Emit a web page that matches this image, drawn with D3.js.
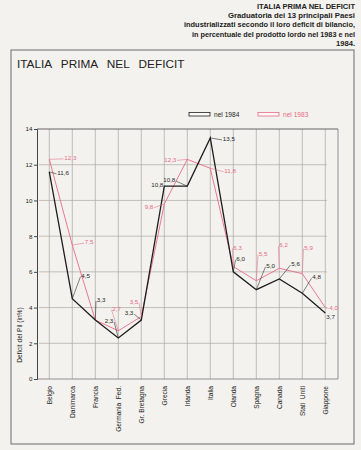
<!DOCTYPE html>
<html><head><meta charset="utf-8">
<script src="https://cdn.jsdelivr.net/npm/d3@7"></script>
<style>
html,body{margin:0;padding:0;background:#f3f2ee;}
svg{display:block;font-family:"Liberation Sans",Arial,sans-serif;}
</style></head>
<body>
<svg id="c" width="361" height="450"></svg>
<script>
// ---- data ----
const categories = ["Belgio","Danimarca","Francia","Germania  Fed.","Gr. Bretagna","Grecia","Irlanda","Italia","Olanda","Spagna","Canada","Stati  Uniti","Giappone"];
const values1984 = [11.6,4.5,3.3,2.3,3.3,10.8,10.8,13.5,6.0,5.0,5.6,4.8,3.7];
const values1983 = [12.3,7.5,3.3,2.7,3.5,9.8,12.3,11.8,6.3,5.5,6.2,5.9,4.0];
const yTicks = [0,2,4,6,8,10,12,14];
const seriesNames = ["nel 1984","nel 1983"];
const headerLines = ["ITALIA PRIMA NEL DEFICIT","Graduatoria dei 13 principali Paesi","industrializzati secondo il loro deficit di bilancio,","in percentuale del prodotto lordo nel 1983 e nel","1984."];
const chartTitle = "ITALIA PRIMA NEL DEFICIT";
const yTitle = "Deficit del Pil (in%)";

// ---- label layout (offsets from point, px) ----
const labels1984 = [[8,1,"start"],[9,-23,"start"],[1.5,-20,"start"],[-5,-17,"end"],[-8,-7,"end"],[-1,-1,"end",false],[-12,-6,"end"],[12.5,1,"start"],[3,-13,"start"],[10,-24,"start"],[12,-15,"start"],[10,-16,"start"],[1,4,"start",false]];
const labels1983 = [[15,-1.5,"start"],[12.5,-3,"start"],null,[-6,-22,"start"],[-3,-14.5,"end"],[-11,2.7,"end"],[-11,0,"end"],[14,2.4,"start"],[0,-19,"start"],[2.5,-27,"start"],[0,-23,"start"],[2,-26,"start"],[4,0,"start"]];

const black = "#1e1e1e", pink = "#e86a86", grid = "#a9a8a4";
const svg = d3.select("#c");

// header (top right)
const hdr = svg.append("g").attr("font-weight","bold").attr("font-size",7.6).attr("fill","#222").attr("text-anchor","end");
const hdrLen = [98,127,171,163,null];
headerLines.forEach((t,i)=>{
  const tx = hdr.append("text").attr("x",355).attr("y",9+i*9.2).text(t);
  if(hdrLen[i]) tx.attr("textLength",hdrLen[i]).attr("lengthAdjust","spacingAndGlyphs");
});

// frame
svg.append("rect").attr("x",11).attr("y",50).attr("width",343).attr("height",394)
  .attr("fill","none").attr("stroke","#6b6b6b").attr("stroke-width",1);
svg.append("text").attr("x",17).attr("y",68).attr("font-size",11.8).attr("fill","#222")
  .style("word-spacing","6px").text(chartTitle);

// scales
const x = d3.scalePoint().domain(categories).range([49.3,325.3]);
const y = d3.scaleLinear().domain([0,14]).range([379,129]);

// grid
const g = svg.append("g");
g.selectAll("line.v").data(categories).join("line")
  .attr("x1",d=>x(d)).attr("x2",d=>x(d)).attr("y1",y(14)).attr("y2",y(0))
  .attr("stroke",grid).attr("stroke-width",0.7);
g.selectAll("line.h").data(yTicks.filter(t=>t>0&&t<14)).join("line")
  .attr("x1",39).attr("x2",327).attr("y1",d=>y(d)).attr("y2",d=>y(d))
  .attr("stroke",grid).attr("stroke-width",0.7);
// box
g.append("line").attr("x1",37).attr("x2",338).attr("y1",y(14)).attr("y2",y(14)).attr("stroke","#555").attr("stroke-width",0.9);
g.append("line").attr("x1",338).attr("x2",338).attr("y1",y(14)).attr("y2",y(0)).attr("stroke","#777").attr("stroke-width",0.8);
g.append("line").attr("x1",37).attr("x2",338).attr("y1",y(0)).attr("y2",y(0)).attr("stroke","#777").attr("stroke-width",0.8);

// y axis
const yAxis = d3.axisLeft(y).tickValues(yTicks).tickSize(3).tickPadding(1.5).tickFormat(d3.format("d"));
const ya = svg.append("g").attr("transform","translate(37,0)").call(yAxis);
ya.select(".domain").attr("stroke","#444").attr("stroke-width",1);
ya.selectAll(".tick line").attr("stroke","#444");
ya.selectAll("text").attr("font-size",6.2).attr("fill","#222").attr("font-family","Liberation Sans, Arial, sans-serif");

svg.append("text").attr("transform","translate(22,335) rotate(-90)").attr("text-anchor","middle")
  .attr("font-size",6.6).attr("fill","#222").text(yTitle);

// x labels
svg.append("g").selectAll("text").data(categories).join("text")
  .attr("transform",d=>`translate(${x(d)+2.3},386) rotate(-90)`)
  .attr("text-anchor","end").attr("font-size",6.6).attr("fill","#222")
  .style("white-space","pre").text(d=>d);

// legend
const leg = [[189,black,seriesNames[0]],[258,pink,seriesNames[1]]];
leg.forEach(([lx,col,name])=>{
  svg.append("rect").attr("x",lx).attr("y",112.5).attr("width",21).attr("height",3.5)
    .attr("fill","#fbfaf7").attr("stroke",col).attr("stroke-width",0.8);
  svg.append("text").attr("x",lx+25).attr("y",117).attr("font-size",6.6).attr("fill",col).text(name);
});

// lines
const line = d3.line().x((d,i)=>x(categories[i])).y(d=>y(d));
svg.append("path").datum(values1983).attr("d",line).attr("fill","none").attr("stroke",pink).attr("stroke-width",0.9);
svg.append("path").datum(values1984).attr("d",line).attr("fill","none").attr("stroke",black).attr("stroke-width",1.3);

// value labels
const fmt = v=>d3.format(".1f")(v).replace(".",",");
function drawLabels(vals, lay, col){
  const lg = svg.append("g");
  vals.forEach((v,i)=>{
    const L = lay[i]; if(!L) return;
    const px = x(categories[i]), py = y(v);
    const tx = px+L[0], ty = py+L[1];
    if(L[3]!==false){
      const ex = L[2]==="end" ? tx+0.8 : tx-0.8;
      lg.append("line").attr("x1",px).attr("y1",py).attr("x2",ex).attr("y2",ty+1)
        .attr("stroke",col).attr("stroke-width",0.55);
    }
    lg.append("text").attr("x",tx).attr("y",ty+2.2).attr("text-anchor",L[2])
      .attr("font-size",6.2).attr("fill",col).text(fmt(v));
  });
}
drawLabels(values1983, labels1983, pink);
drawLabels(values1984, labels1984, black);
</script>
</body></html>
